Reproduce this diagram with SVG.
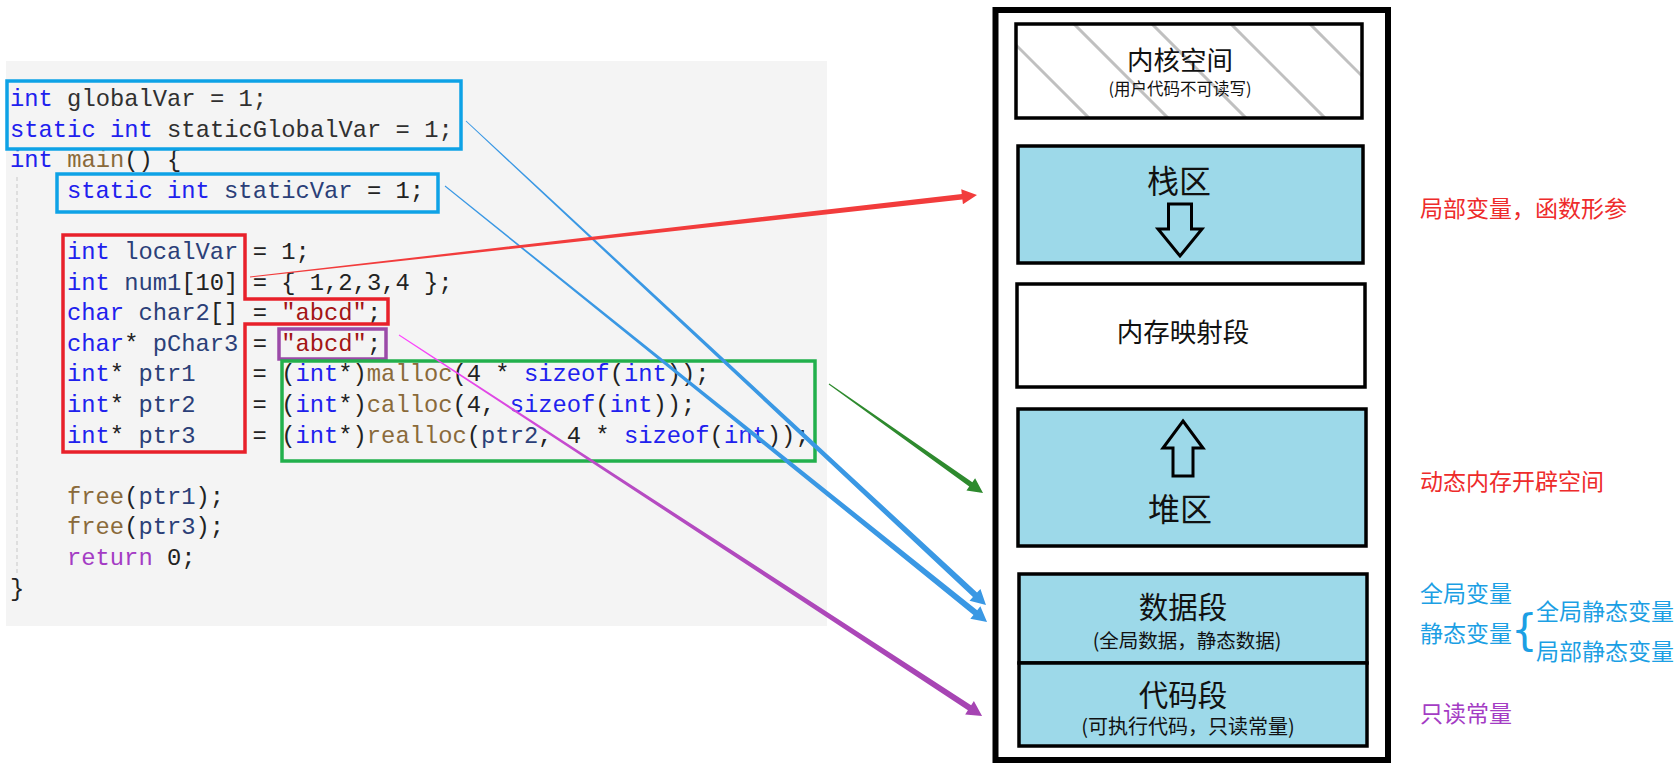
<svg xmlns="http://www.w3.org/2000/svg" width="1680" height="770" viewBox="0 0 1680 770">
<style>
.code{font-family:"Liberation Mono","Courier New",monospace;font-size:23.8px;fill:#222;white-space:pre}
.k{fill:#2020ee}.g{fill:#303030}.v{fill:#2b3f78}.f{fill:#8a6a3a}.s{fill:#a31515}.r{fill:#a43cc4}
.cj{font-family:"Noto Sans CJK SC","Microsoft YaHei",sans-serif;fill:#111;text-anchor:middle;dominant-baseline:central}
.lab{font-family:"Noto Sans CJK SC","Microsoft YaHei",sans-serif;font-size:23px;dominant-baseline:central}
.red{fill:#ee2b2b}.blu{fill:#1c9fe4}
.seg{stroke:#000;stroke-width:3.5}
.box{fill:none;stroke-width:3.5}
</style>
<defs>
<clipPath id="kclip"><rect x="1016" y="24" width="346" height="94"/></clipPath>
<linearGradient id="pg" x1="0" y1="0" x2="1" y2="0"><stop offset="0" stop-color="#ff44ff"/><stop offset="0.35" stop-color="#b84cc4"/><stop offset="1" stop-color="#a544b2"/></linearGradient>
</defs>
<rect width="1680" height="770" fill="#fff"/>

<g id="code-panel">
<rect x="6" y="61" width="821" height="565" fill="#f4f4f4"/>
<line x1="17" y1="177" x2="17" y2="575" stroke="#c8c8c8" stroke-width="1" stroke-dasharray="4 3"/>
<g class="code">
<text xml:space="preserve" x="10" y="106"><tspan class="k">int</tspan><tspan class="g"> globalVar = 1;</tspan></text>
<text xml:space="preserve" x="10" y="136.6"><tspan class="k">static int</tspan><tspan class="g"> staticGlobalVar = 1;</tspan></text>
<text xml:space="preserve" x="10" y="167.2"><tspan class="k">int</tspan> <tspan class="f">main</tspan>() {</text>
<text xml:space="preserve" x="67" y="197.8"><tspan class="k">static int</tspan> <tspan class="v">staticVar</tspan> = 1;</text>
<text xml:space="preserve" x="67" y="259"><tspan class="k">int</tspan> <tspan class="v">localVar</tspan> = 1;</text>
<text xml:space="preserve" x="67" y="289.6"><tspan class="k">int</tspan> <tspan class="v">num1</tspan>[10] = { 1,2,3,4 };</text>
<text xml:space="preserve" x="67" y="320.2"><tspan class="k">char</tspan> <tspan class="v">char2</tspan>[] = <tspan class="s">"abcd"</tspan>;</text>
<text xml:space="preserve" x="67" y="350.8"><tspan class="k">char</tspan>* <tspan class="v">pChar3</tspan> = <tspan class="s">"abcd"</tspan>;</text>
<text xml:space="preserve" x="67" y="381.4"><tspan class="k">int</tspan>* <tspan class="v">ptr1</tspan><tspan x="252.6">= (</tspan><tspan class="k">int</tspan>*)<tspan class="f">malloc</tspan>(4 * <tspan class="k">sizeof</tspan>(<tspan class="k">int</tspan>));</text>
<text xml:space="preserve" x="67" y="412"><tspan class="k">int</tspan>* <tspan class="v">ptr2</tspan><tspan x="252.6">= (</tspan><tspan class="k">int</tspan>*)<tspan class="f">calloc</tspan>(4, <tspan class="k">sizeof</tspan>(<tspan class="k">int</tspan>));</text>
<text xml:space="preserve" x="67" y="442.6"><tspan class="k">int</tspan>* <tspan class="v">ptr3</tspan><tspan x="252.6">= (</tspan><tspan class="k">int</tspan>*)<tspan class="f">realloc</tspan>(<tspan class="v">ptr2</tspan>, 4 * <tspan class="k">sizeof</tspan>(<tspan class="k">int</tspan>));</text>
<text xml:space="preserve" x="67" y="503.8"><tspan class="f">free</tspan>(<tspan class="v">ptr1</tspan>);</text>
<text xml:space="preserve" x="67" y="534.4"><tspan class="f">free</tspan>(<tspan class="v">ptr3</tspan>);</text>
<text xml:space="preserve" x="67" y="565"><tspan class="r">return</tspan> 0;</text>
<text x="10" y="595.6">}</text>
</g>
</g>

<g id="box-globals"><rect class="box" x="7" y="81" width="454" height="68" stroke="#0ea2e6"/></g>
<g id="box-staticvar"><rect class="box" x="57" y="174" width="381" height="38" stroke="#0ea2e6"/></g>
<g id="box-locals"><polygon class="box" points="63,235 245,235 245,299 388,299 388,324 245,324 245,452 63,452" stroke="#e8202a" stroke-linejoin="miter"/></g>
<g id="box-literal"><rect class="box" x="279" y="329" width="107" height="30" stroke="#9b4aa8"/></g>
<g id="box-heapcalls"><rect class="box" x="282" y="361" width="533" height="100" stroke="#22b04c"/></g>

<g id="memory-frame"><rect x="995.5" y="10" width="392.5" height="750" fill="none" stroke="#000" stroke-width="6"/></g>

<g id="seg-kernel">
<rect x="1016" y="24" width="346" height="94" fill="#fff"/>
<g clip-path="url(#kclip)" stroke="#c0c0c0" stroke-width="3">
<line x1="991" y1="20" x2="1096" y2="125"/>
<line x1="1070" y1="20" x2="1175" y2="125"/>
<line x1="1148" y1="20" x2="1253" y2="125"/>
<line x1="1227" y1="20" x2="1332" y2="125"/>
<line x1="1306" y1="20" x2="1411" y2="125"/>
</g>
<rect class="seg" x="1016" y="24" width="346" height="94" fill="none"/>
<text class="cj" x="1180" y="58" font-size="26.5">内核空间</text>
<text class="cj" x="1180" y="88" font-size="16.5">(用户代码不可读写)</text>
</g>

<g id="seg-stack">
<rect class="seg" x="1018" y="146" width="345" height="117" fill="#9dd9e9"/>
<text class="cj" x="1179" y="179" font-size="32">栈区</text>
<polygon points="1168.5,204 1191.5,204 1191.5,229 1202,229 1180,256 1158,229 1168.5,229" fill="none" stroke="#000" stroke-width="3"/>
</g>

<g id="seg-mmap">
<rect class="seg" x="1017" y="284" width="348" height="103" fill="#fff"/>
<text class="cj" x="1183" y="330" font-size="26.5">内存映射段</text>
</g>

<g id="seg-heap">
<rect class="seg" x="1018" y="409" width="348" height="137" fill="#9dd9e9"/>
<polygon points="1183,421 1203,448 1193,448 1193,476 1173,476 1173,448 1163,448" fill="none" stroke="#000" stroke-width="3"/>
<text class="cj" x="1180" y="507" font-size="32">堆区</text>
</g>

<g id="seg-data">
<rect class="seg" x="1019" y="574" width="348" height="89" fill="#9dd9e9"/>
<text class="cj" x="1183" y="605" font-size="29.5">数据段</text>
<text class="cj" x="1187" y="639" font-size="19.5">(全局数据，静态数据)</text>
</g>

<g id="seg-code">
<rect class="seg" x="1019" y="663" width="348" height="83" fill="#9dd9e9"/>
<text class="cj" x="1183" y="693" font-size="29.5">代码段</text>
<text class="cj" x="1188" y="725" font-size="20">(可执行代码，只读常量)</text>
</g>

<g id="label-stack"><text class="lab red" x="1420" y="207">局部变量，函数形参</text></g>
<g id="label-heap"><text class="lab red" x="1420" y="480">动态内存开辟空间</text></g>
<g id="label-data">
<text class="lab blu" x="1420" y="592">全局变量</text>
<text class="lab blu" x="1420" y="632">静态变量</text>
<text class="lab blu" x="1511" y="630" style="font-size:42px;font-family:'DejaVu Sans',sans-serif">{</text>
<text class="lab blu" x="1536" y="610">全局静态变量</text>
<text class="lab blu" x="1536" y="650">局部静态变量</text>
</g>
<g id="label-code"><text class="lab" x="1420" y="712" fill="#a43cc4">只读常量</text></g>

<g id="connectors">
<polygon transform="translate(445,186) rotate(38.81)" points="0,-0.5 680.6,-3 680.6,-8 695.6,0 680.6,8 680.6,3 0,0.5" fill="#3a98e4"/>
<polygon transform="translate(466,121) rotate(42.95)" points="0,-0.5 695.4,-3 695.4,-8 710.4,0 695.4,8 695.4,3 0,0.5" fill="#3a98e4"/>
<polygon transform="translate(829,384) rotate(35.29)" points="0,-0.5 173.7,-2.7 173.7,-7.5 188.7,0 173.7,7.5 173.7,2.7 0,0.5" fill="#2e8a2e"/>
<polygon transform="translate(399,335) rotate(33.16)" points="0,-0.5 681.5,-3 681.5,-8 696.5,0 681.5,8 681.5,3 0,0.5" fill="url(#pg)"/>
<polygon transform="translate(250,277) rotate(-6.435)" points="0,-0.5 716.6,-2.8 716.6,-7.5 731.6,0 716.6,7.5 716.6,2.8 0,0.5" fill="#f23c3c"/>
</g>
</svg>
